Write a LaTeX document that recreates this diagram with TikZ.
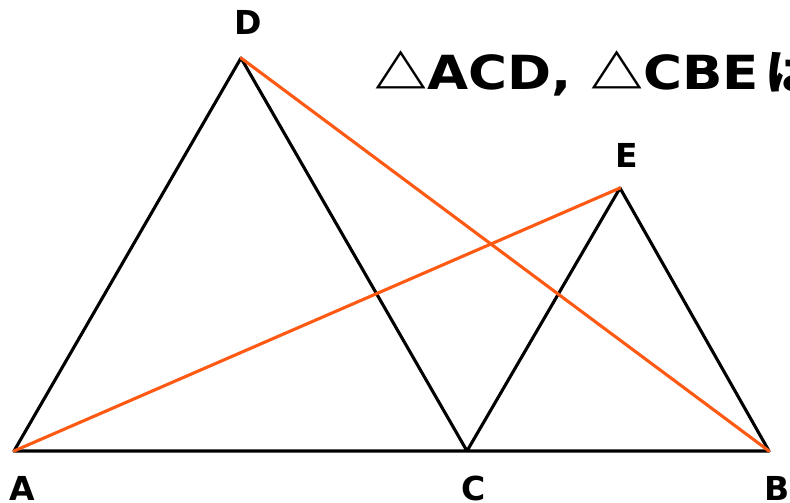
\documentclass[tikz,border=0pt]{standalone}
\usepackage{fontspec}
\setmainfont{DejaVu Sans}
\newfontfamily\cjkfont{Noto Sans CJK JP}
\definecolor{seg}{HTML}{FF5A14}
\begin{document}
\begin{tikzpicture}[x=1pt,y=-1pt,
  edge/.style={line width=3.1pt,line join=round,line cap=round},
  lbl/.style={font=\fontsize{33}{33}\selectfont\bfseries,inner sep=0pt}]
\useasboundingbox (0,0) rectangle (790,503);
\coordinate (A) at (14,451);
\coordinate (C) at (467,451);
\coordinate (B) at (769,451);
\coordinate (D) at (241,58);
\coordinate (E) at (620,188);
\draw[edge] (A) -- (D) -- (C) -- (E) -- (B) -- (C) -- (A);
\draw[edge,seg] (A) -- (E);
\draw[edge,seg] (D) -- (B);
\node[lbl] (lA) at (22,488) {A};
\node[lbl] (lB) at (777,488) {B};
\node[lbl] (lC) at (474,488) {C};
\node[lbl] (lD) at (248,22) {D};
\node[lbl] (lE) at (627,155) {E};
\node[anchor=base west,inner sep=0pt,xscale=1.13,font=\fontsize{47}{47}\selectfont\bfseries] (title) at (374,89) {{\cjkfont △}ACD, {\cjkfont △}CBE\hspace{0.12em}{\cjkfont\bfseries は}};
\end{tikzpicture}
\end{document}
